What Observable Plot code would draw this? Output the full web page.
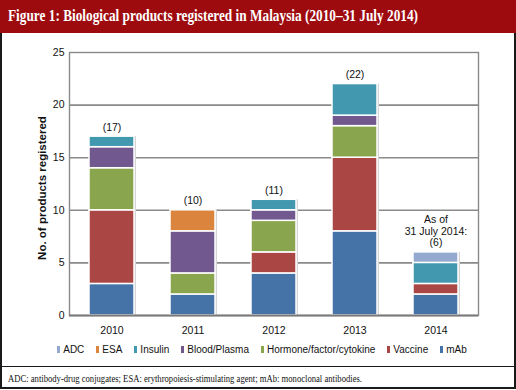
<!DOCTYPE html>
<html><head><meta charset="utf-8">
<script src="https://cdn.jsdelivr.net/npm/d3@7"></script>
<script src="https://cdn.jsdelivr.net/npm/@observablehq/plot@0.6"></script>
<style>
body{margin:0;background:#fff;}
#wrap{position:relative;width:516px;height:390px;overflow:hidden;font-family:"Liberation Sans",Arial,sans-serif;}
#head{position:absolute;left:0;top:0;width:516px;height:33px;background:#9e0b0f;}
#title{position:absolute;left:8px;top:7px;color:#fff;font-family:"Liberation Serif","Times New Roman",serif;font-weight:bold;font-size:16px;white-space:nowrap;transform-origin:0 0;}
#chart{position:absolute;left:0;top:33px;}
#box{position:absolute;left:0;top:33px;width:512px;height:354px;border:2px solid #1a1a1a;border-top:none;}
#div{position:absolute;left:0;top:366px;width:516px;height:0;border-top:1.5px solid #1a1a1a;}
#legend{position:absolute;left:0;top:344px;width:524px;display:flex;justify-content:center;gap:12px;font-size:10px;color:#111;}
#legend span.sw{display:inline-block;width:3px;height:7px;margin-right:3px;vertical-align:0px;}
#foot{position:absolute;left:8px;top:373px;font-family:"Liberation Serif","Times New Roman",serif;font-size:10px;color:#111;white-space:nowrap;transform-origin:0 0;}
</style></head>
<body>
<div id="wrap">
  <div id="head"><div id="title">Figure 1: Biological products registered in Malaysia (2010–31 July 2014)</div></div>
  <div id="chart"></div>
  <div id="box"></div>
  <div id="legend"></div>
  <div id="div"></div>
  <div id="foot">ADC: antibody-drug conjugates; ESA: erythropoiesis-stimulating agent; mAb: monoclonal antibodies.</div>
</div>
<script>
const years = ["2010","2011","2012","2013","2014"];
const seriesNames = ["mAb","Vaccine","Hormone/factor/cytokine","Blood/Plasma","Insulin","ESA","ADC"];
const seriesColors = ["#4572A7","#AA4643","#89A54E","#71588F","#4198AF","#DB843D","#93A9CF"];
const mAb      = [3,2,4,8,2];
const vaccine  = [7,0,2,7,1];
const hormone  = [4,2,3,3,0];
const blood    = [2,4,1,1,0];
const insulin  = [1,0,1,3,2];
const esa      = [0,2,0,0,0];
const adc      = [0,0,0,0,1];
const totalLabels = ["(17)","(10)","(11)","(22)","As of\n31 July 2014:\n(6)"];
const legendOrder = ["ADC","ESA","Insulin","Blood/Plasma","Hormone/factor/cytokine","Vaccine","mAb"];
const yTicks = [0,5,10,15,20,25];

const seriesValues = [mAb,vaccine,hormone,blood,insulin,esa,adc];
const rows = [];
seriesNames.forEach((s,i)=>years.forEach((y,j)=>{ if(seriesValues[i][j]>0) rows.push({year:y, series:s, value:seriesValues[i][j]}); }));
const totals = years.map((y,j)=>({year:y, total: seriesValues.reduce((a,v)=>a+v[j],0), label: totalLabels[j]}));

const chart = Plot.plot({
  width:516, height:305,
  marginTop:19, marginBottom:23, marginLeft:69, marginRight:38,
  style:{fontFamily:"Liberation Sans, Arial, sans-serif", fontSize:"10px", color:"#111"},
  x:{domain:years, paddingInner:0.44, paddingOuter:0.22, label:null},
  y:{domain:[0,25], ticks:yTicks, label:null},
  color:{domain:seriesNames, range:seriesColors},
  marks:[
    Plot.gridY(yTicks.filter(t=>t>0 && t<25), {stroke:"#8a8a8a", strokeOpacity:1, strokeWidth:1.6}),
    Plot.frame({stroke:"#8a8a8a", strokeWidth:1.4}),
    Plot.barY(totals, {x:"year", y:"total", fill:"#d4d4d4", dx:2, dy:0}),
    Plot.barY(rows, {x:"year", y:"value", fill:"series", order:seriesNames, stroke:"#fff", strokeWidth:1.5}),
    Plot.ruleY([0], {stroke:"#7a7a7a", strokeWidth:2.2}),
    Plot.text(totals, {x:"year", y:"total", text:"label", lineAnchor:"bottom", dy:-6, fontSize:10.5, fill:"#111", lineHeight:1.1}),
    Plot.axisX({tickSize:0, tickPadding:11, fontSize:10.5, label:null}),
    Plot.axisY({ticks:yTicks, tickSize:0, tickPadding:5, fontSize:10.5, label:null}),
    Plot.text(["No. of products registered"], {frameAnchor:"left", textAnchor:"middle", rotate:-90, dx:-27, dy:4, fontWeight:"bold", fontSize:11.5, fill:"#111"})
  ]
});
document.getElementById("chart").appendChild(chart);

const leg = document.getElementById("legend");
legendOrder.forEach(n=>{
  const c = seriesColors[seriesNames.indexOf(n)];
  const d = document.createElement("div");
  d.innerHTML = `<span class="sw" style="background:${c}"></span>${n}`;
  leg.appendChild(d);
});

function fitWidth(id, w){
  const el = document.getElementById(id);
  const cur = el.getBoundingClientRect().width;
  el.style.transform = `scaleX(${w/cur})`;
}
fitWidth("title", 410);
fitWidth("foot", 354);
</script>
</body></html>
